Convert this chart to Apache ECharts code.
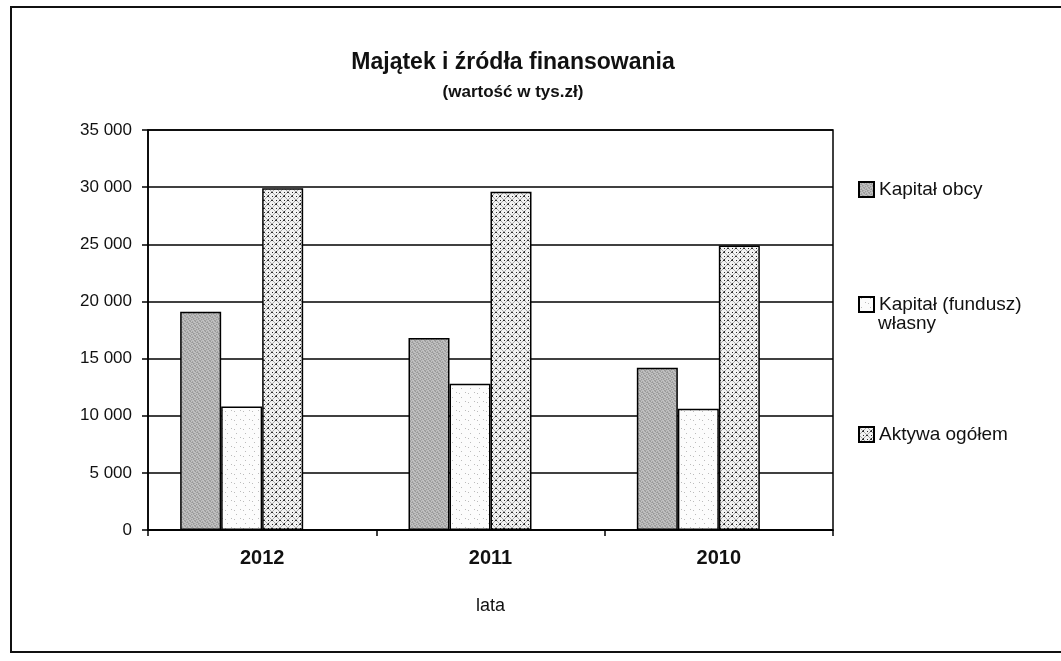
<!DOCTYPE html>
<html>
<head>
<meta charset="utf-8">
<script src="https://cdn.jsdelivr.net/npm/echarts@6/dist/echarts.min.js"></script>
<style>
html,body{margin:0;padding:0;background:#fff;}
#c{width:1061px;height:661px;}
</style>
</head>
<body>
<div id="c"></div>
<script>
const categories = ['2012', '2011', '2010'];
const kapitalObcy = [19100, 16800, 14200];
const kapitalWlasny = [10800, 12800, 10600];
const aktywaOgolem = [29900, 29600, 24900];
const seriesNames = ['Kapitał obcy', 'Kapitał (fundusz) własny', 'Aktywa ogółem'];
const yTicks = [0, 5000, 10000, 15000, 20000, 25000, 30000, 35000];

function pattern(kind) {
  const c = document.createElement('canvas');
  const ctx = c.getContext('2d');
  if (kind === 'obcy') {
    c.width = 5; c.height = 5;
    const g = ['#a4a4a4', '#c4c4c4', '#b6b6b6', '#999999', '#bdbdbd'];
    const idx = [[0,2,4,1,3],[3,1,0,4,2],[4,0,3,2,1],[2,4,1,3,0],[1,3,2,0,4]];
    for (let y = 0; y < 5; y++) for (let x = 0; x < 5; x++) {
      ctx.fillStyle = g[idx[y][x]];
      ctx.fillRect(x, y, 1, 1);
    }
  } else if (kind === 'wlasny') {
    c.width = 9; c.height = 9;
    ctx.fillStyle = '#fcfcfc'; ctx.fillRect(0, 0, 9, 9);
    ctx.fillStyle = '#bcbcbc';
    ctx.fillRect(2, 1, 1, 1); ctx.fillRect(6, 5, 1, 1); ctx.fillRect(0, 6, 1, 1);
  } else {
    c.width = 8; c.height = 8;
    ctx.fillStyle = '#f2f2f2'; ctx.fillRect(0, 0, 8, 8);
    ctx.fillStyle = '#aaaaaa';
    for (let i = 0; i < 8; i++) { ctx.fillRect(i, i, 1, 1); ctx.fillRect(7 - i, i, 1, 1); }
    ctx.fillStyle = '#2e2e2e';
    ctx.fillRect(0, 0, 1, 1); ctx.fillRect(7, 0, 1, 1); ctx.fillRect(3, 4, 2, 1); ctx.fillRect(4, 3, 1, 1);
    ctx.fillRect(0, 4, 1, 1); ctx.fillRect(4, 0, 1, 1);
  }
  return { image: c, repeat: 'repeat' };
}

const chart = echarts.init(document.getElementById('c'), null, { renderer: 'canvas' });
const fmt = v => String(v).replace(/\B(?=(\d{3})+(?!\d))/g, ' ');
const barStyle = (fill) => ({ color: fill, borderColor: '#000', borderWidth: 1.5 });
const values = [kapitalObcy, kapitalWlasny, aktywaOgolem];
const fills = [pattern('obcy'), pattern('wlasny'), pattern('aktywa')];
const FONT = 'Arial, "Liberation Sans", sans-serif';

const series = seriesNames.map((n, i) => ({
  name: n, type: 'bar', data: values[i], barWidth: 41, barGap: '0%',
  itemStyle: barStyle(fills[i])
}));
// empty slot so the visible group sits left of each category centre, as in the original
series.push({ name: '_slot', type: 'bar', data: categories.map(() => null), barWidth: 41, barGap: '0%', silent: true });

chart.setOption({
  animation: false,
  backgroundColor: '#fff',
  textStyle: { fontFamily: FONT },
  title: [
    { text: 'Majątek i źródła finansowania', left: 508, textAlign: 'center', top: 46,
      textStyle: { fontSize: 23, fontWeight: 'bold', color: '#111', fontFamily: FONT } },
    { text: '(wartość w tys.zł)', left: 508, textAlign: 'center', top: 79,
      textStyle: { fontSize: 17, fontWeight: 'bold', color: '#111', fontFamily: FONT } }
  ],
  legend: [
    { data: [seriesNames[0]], icon: 'rect', orient: 'vertical', left: 853, top: 175, itemWidth: 15, itemHeight: 15,
      textStyle: { fontSize: 19, color: '#111' } },
    { data: [seriesNames[1]], icon: 'rect', orient: 'vertical', left: 853, top: 290, itemWidth: 15, itemHeight: 15,
      formatter: () => 'Kapitał (fundusz)', textStyle: { fontSize: 19, color: '#111' } },
    { data: [seriesNames[2]], icon: 'rect', orient: 'vertical', left: 853, top: 420, itemWidth: 15, itemHeight: 15,
      textStyle: { fontSize: 19, color: '#111' } }
  ],
  graphic: [
    { type: 'rect', shape: { x: 11, y: 7, width: 1062, height: 645 }, style: { fill: 'none', stroke: '#111', lineWidth: 2 }, silent: true },
    { type: 'text', left: 878, top: 314, style: { text: 'własny', fontSize: 19, fill: '#111', fontFamily: FONT } }
  ],
  grid: { left: 148, right: 228, top: 130, bottom: 131, show: true, borderColor: '#000', borderWidth: 1.5, backgroundColor: 'transparent' },
  xAxis: {
    type: 'category', data: categories,
    axisLine: { lineStyle: { color: '#000', width: 1.5 } },
    axisTick: { show: true, alignWithLabel: false, length: 6, lineStyle: { color: '#000', width: 1.5 } },
    axisLabel: { fontSize: 20, fontWeight: 'bold', color: '#111', margin: 18 },
    name: 'lata', nameLocation: 'middle', nameGap: 67,
    nameTextStyle: { fontSize: 18, color: '#111' }
  },
  yAxis: {
    type: 'value', min: yTicks[0], max: yTicks[yTicks.length - 1], interval: 5000,
    axisLine: { show: true, lineStyle: { color: '#000', width: 1.5 } },
    axisTick: { show: true, length: 6, lineStyle: { color: '#000', width: 1.5 } },
    axisLabel: { fontSize: 17, color: '#111', margin: 16, formatter: fmt },
    splitLine: { lineStyle: { color: '#000', width: 1.5 } }
  },
  series: series
});
</script>
</body>
</html>
